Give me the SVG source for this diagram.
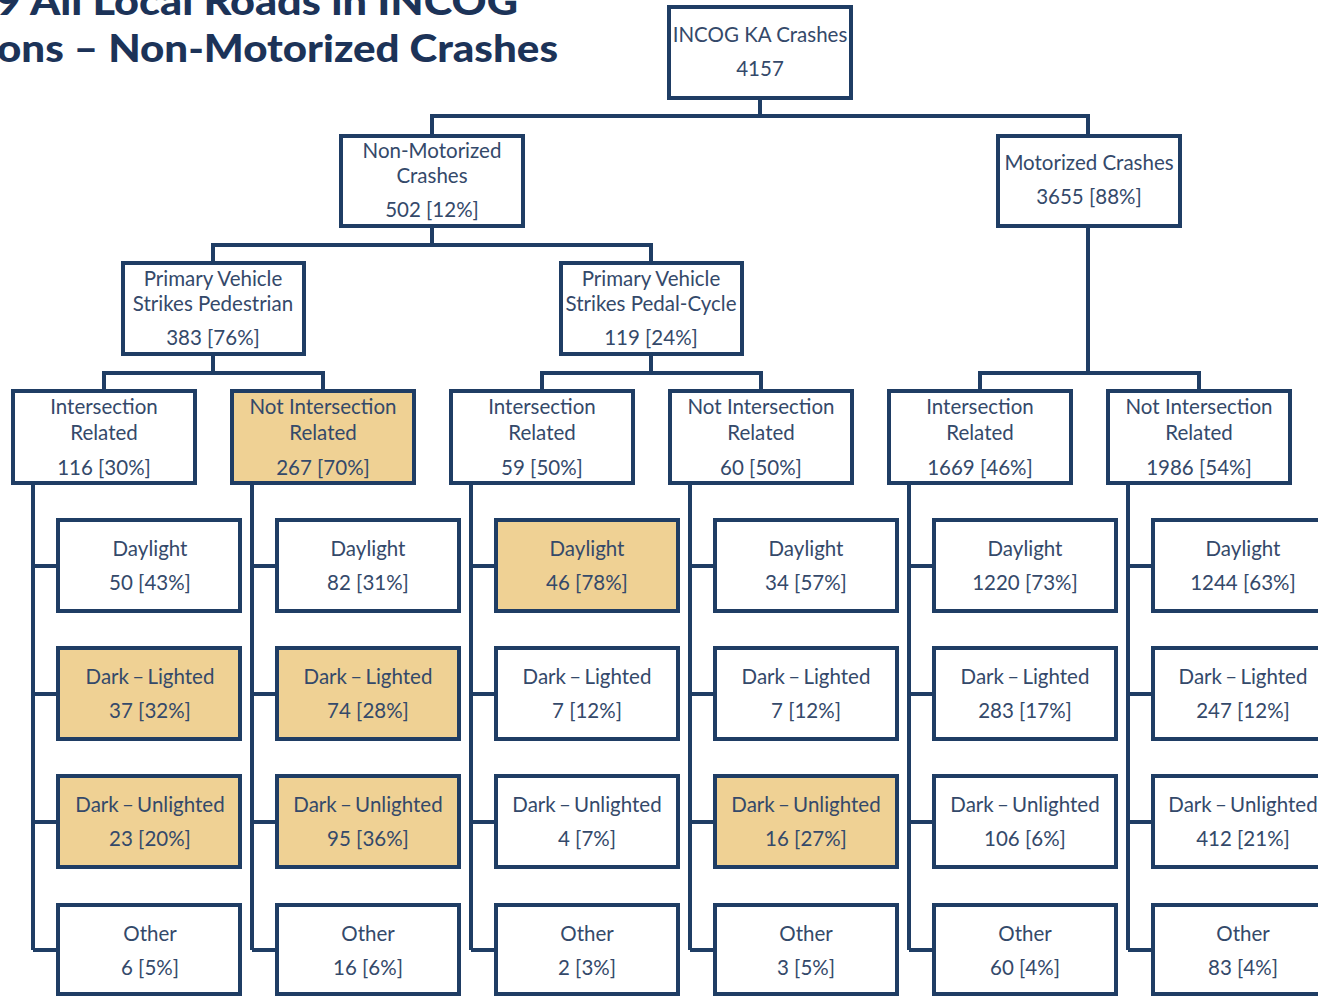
<svg xmlns="http://www.w3.org/2000/svg" width="1318" height="996" viewBox="0 0 1318 996">
<style>
.box{fill:#ffffff;stroke:#1f3d64;stroke-width:4}
.hl{fill:#efd194}
.t{font-family:Lato,"Liberation Sans",sans-serif;font-size:20.5px;fill:#34496a;text-anchor:middle}
.d{word-spacing:-2px}
.title{font-family:Lato,"DejaVu Sans",sans-serif;font-weight:900;font-size:38px;fill:#1c3358}
.c{fill:none;stroke:#1f3d64;stroke-width:4}
</style>
<rect width="1318" height="996" fill="#ffffff"/>
<g id="title">
<text class="title" x="-4" y="15" textLength="522" lengthAdjust="spacingAndGlyphs">9 All Local Roads in INCOG</text>
<text class="title" x="-3" y="62" textLength="561" lengthAdjust="spacingAndGlyphs">ons – Non-Motorized Crashes</text>
</g>
<g id="connectors">
<path class="c" d="M760 98V116M432 136V116H1088V136"/>
<path class="c" d="M432 226V245M213 263V245H651V263"/>
<path class="c" d="M213 354V373M104 391V373H323V391"/>
<path class="c" d="M651 354V373M542 391V373H761V391"/>
<path class="c" d="M1088 226V373M980 391V373H1199V391"/>
<path class="c" d="M33 483V950M33 566H58M33 694H58M33 822H58M33 950H58"/>
<path class="c" d="M252 483V950M252 566H277M252 694H277M252 822H277M252 950H277"/>
<path class="c" d="M471 483V950M471 566H496M471 694H496M471 822H496M471 950H496"/>
<path class="c" d="M690 483V950M690 566H715M690 694H715M690 822H715M690 950H715"/>
<path class="c" d="M909 483V950M909 566H934M909 694H934M909 822H934M909 950H934"/>
<path class="c" d="M1128 483V950M1128 566H1153M1128 694H1153M1128 822H1153M1128 950H1153"/>
</g>
<g id="root"><rect class="box" x="669" y="7" width="182" height="91"/><text class="t" x="760" y="42">INCOG KA Crashes</text><text class="t" x="760" y="76">4157</text></g>
<g id="nonmotor"><rect class="box" x="341" y="136" width="182" height="90"/><text class="t" x="432" y="158">Non-Motorized</text><text class="t" x="432" y="183">Crashes</text><text class="t" x="432" y="217">502 [12%]</text></g>
<g id="motor"><rect class="box" x="998" y="136" width="182" height="90"/><text class="t" x="1089" y="170">Motorized Crashes</text><text class="t" x="1089" y="204">3655 [88%]</text></g>
<g id="ped"><rect class="box" x="123" y="263" width="181" height="91"/><text class="t" x="213" y="286">Primary Vehicle</text><text class="t" x="213" y="311">Strikes Pedestrian</text><text class="t" x="213" y="345">383 [76%]</text></g>
<g id="cyc"><rect class="box" x="561" y="263" width="181" height="91"/><text class="t" x="651" y="286">Primary Vehicle</text><text class="t" x="651" y="311">Strikes Pedal-Cycle</text><text class="t" x="651" y="345">119 [24%]</text></g>
<g id="p-int"><rect class="box" x="13" y="391" width="182" height="92"/><text class="t" x="104" y="414">Intersection</text><text class="t" x="104" y="440">Related</text><text class="t" x="104" y="475">116 [30%]</text></g>
<g id="p-nint"><rect class="box hl" x="232" y="391" width="182" height="92"/><text class="t" x="323" y="414">Not Intersection</text><text class="t" x="323" y="440">Related</text><text class="t" x="323" y="475">267 [70%]</text></g>
<g id="c-int"><rect class="box" x="451" y="391" width="182" height="92"/><text class="t" x="542" y="414">Intersection</text><text class="t" x="542" y="440">Related</text><text class="t" x="542" y="475">59 [50%]</text></g>
<g id="c-nint"><rect class="box" x="670" y="391" width="182" height="92"/><text class="t" x="761" y="414">Not Intersection</text><text class="t" x="761" y="440">Related</text><text class="t" x="761" y="475">60 [50%]</text></g>
<g id="m-int"><rect class="box" x="889" y="391" width="182" height="92"/><text class="t" x="980" y="414">Intersection</text><text class="t" x="980" y="440">Related</text><text class="t" x="980" y="475">1669 [46%]</text></g>
<g id="m-nint"><rect class="box" x="1108" y="391" width="182" height="92"/><text class="t" x="1199" y="414">Not Intersection</text><text class="t" x="1199" y="440">Related</text><text class="t" x="1199" y="475">1986 [54%]</text></g>

<g id="pi-day"><rect class="box" x="58" y="520" width="182" height="91"/><text class="t" x="150" y="556">Daylight</text><text class="t" x="150" y="590">50 [43%]</text></g>
<g id="pi-dl"><rect class="box hl" x="58" y="648" width="182" height="91"/><text class="t d" x="150" y="684">Dark – Lighted</text><text class="t" x="150" y="718">37 [32%]</text></g>
<g id="pi-du"><rect class="box hl" x="58" y="776" width="182" height="91"/><text class="t d" x="150" y="812">Dark – Unlighted</text><text class="t" x="150" y="846">23 [20%]</text></g>
<g id="pi-ot"><rect class="box" x="58" y="905" width="182" height="89"/><text class="t" x="150" y="941">Other</text><text class="t" x="150" y="975">6 [5%]</text></g>

<g id="pn-day"><rect class="box" x="277" y="520" width="182" height="91"/><text class="t" x="368" y="556">Daylight</text><text class="t" x="368" y="590">82 [31%]</text></g>
<g id="pn-dl"><rect class="box hl" x="277" y="648" width="182" height="91"/><text class="t d" x="368" y="684">Dark – Lighted</text><text class="t" x="368" y="718">74 [28%]</text></g>
<g id="pn-du"><rect class="box hl" x="277" y="776" width="182" height="91"/><text class="t d" x="368" y="812">Dark – Unlighted</text><text class="t" x="368" y="846">95 [36%]</text></g>
<g id="pn-ot"><rect class="box" x="277" y="905" width="182" height="89"/><text class="t" x="368" y="941">Other</text><text class="t" x="368" y="975">16 [6%]</text></g>

<g id="ci-day"><rect class="box hl" x="496" y="520" width="182" height="91"/><text class="t" x="587" y="556">Daylight</text><text class="t" x="587" y="590">46 [78%]</text></g>
<g id="ci-dl"><rect class="box" x="496" y="648" width="182" height="91"/><text class="t d" x="587" y="684">Dark – Lighted</text><text class="t" x="587" y="718">7 [12%]</text></g>
<g id="ci-du"><rect class="box" x="496" y="776" width="182" height="91"/><text class="t d" x="587" y="812">Dark – Unlighted</text><text class="t" x="587" y="846">4 [7%]</text></g>
<g id="ci-ot"><rect class="box" x="496" y="905" width="182" height="89"/><text class="t" x="587" y="941">Other</text><text class="t" x="587" y="975">2 [3%]</text></g>

<g id="cn-day"><rect class="box" x="715" y="520" width="182" height="91"/><text class="t" x="806" y="556">Daylight</text><text class="t" x="806" y="590">34 [57%]</text></g>
<g id="cn-dl"><rect class="box" x="715" y="648" width="182" height="91"/><text class="t d" x="806" y="684">Dark – Lighted</text><text class="t" x="806" y="718">7 [12%]</text></g>
<g id="cn-du"><rect class="box hl" x="715" y="776" width="182" height="91"/><text class="t d" x="806" y="812">Dark – Unlighted</text><text class="t" x="806" y="846">16 [27%]</text></g>
<g id="cn-ot"><rect class="box" x="715" y="905" width="182" height="89"/><text class="t" x="806" y="941">Other</text><text class="t" x="806" y="975">3 [5%]</text></g>

<g id="mi-day"><rect class="box" x="934" y="520" width="182" height="91"/><text class="t" x="1025" y="556">Daylight</text><text class="t" x="1025" y="590">1220 [73%]</text></g>
<g id="mi-dl"><rect class="box" x="934" y="648" width="182" height="91"/><text class="t d" x="1025" y="684">Dark – Lighted</text><text class="t" x="1025" y="718">283 [17%]</text></g>
<g id="mi-du"><rect class="box" x="934" y="776" width="182" height="91"/><text class="t d" x="1025" y="812">Dark – Unlighted</text><text class="t" x="1025" y="846">106 [6%]</text></g>
<g id="mi-ot"><rect class="box" x="934" y="905" width="182" height="89"/><text class="t" x="1025" y="941">Other</text><text class="t" x="1025" y="975">60 [4%]</text></g>

<g id="mn-day"><rect class="box" x="1153" y="520" width="182" height="91"/><text class="t" x="1243" y="556">Daylight</text><text class="t" x="1243" y="590">1244 [63%]</text></g>
<g id="mn-dl"><rect class="box" x="1153" y="648" width="182" height="91"/><text class="t d" x="1243" y="684">Dark – Lighted</text><text class="t" x="1243" y="718">247 [12%]</text></g>
<g id="mn-du"><rect class="box" x="1153" y="776" width="182" height="91"/><text class="t d" x="1243" y="812">Dark – Unlighted</text><text class="t" x="1243" y="846">412 [21%]</text></g>
<g id="mn-ot"><rect class="box" x="1153" y="905" width="182" height="89"/><text class="t" x="1243" y="941">Other</text><text class="t" x="1243" y="975">83 [4%]</text></g>
</svg>
